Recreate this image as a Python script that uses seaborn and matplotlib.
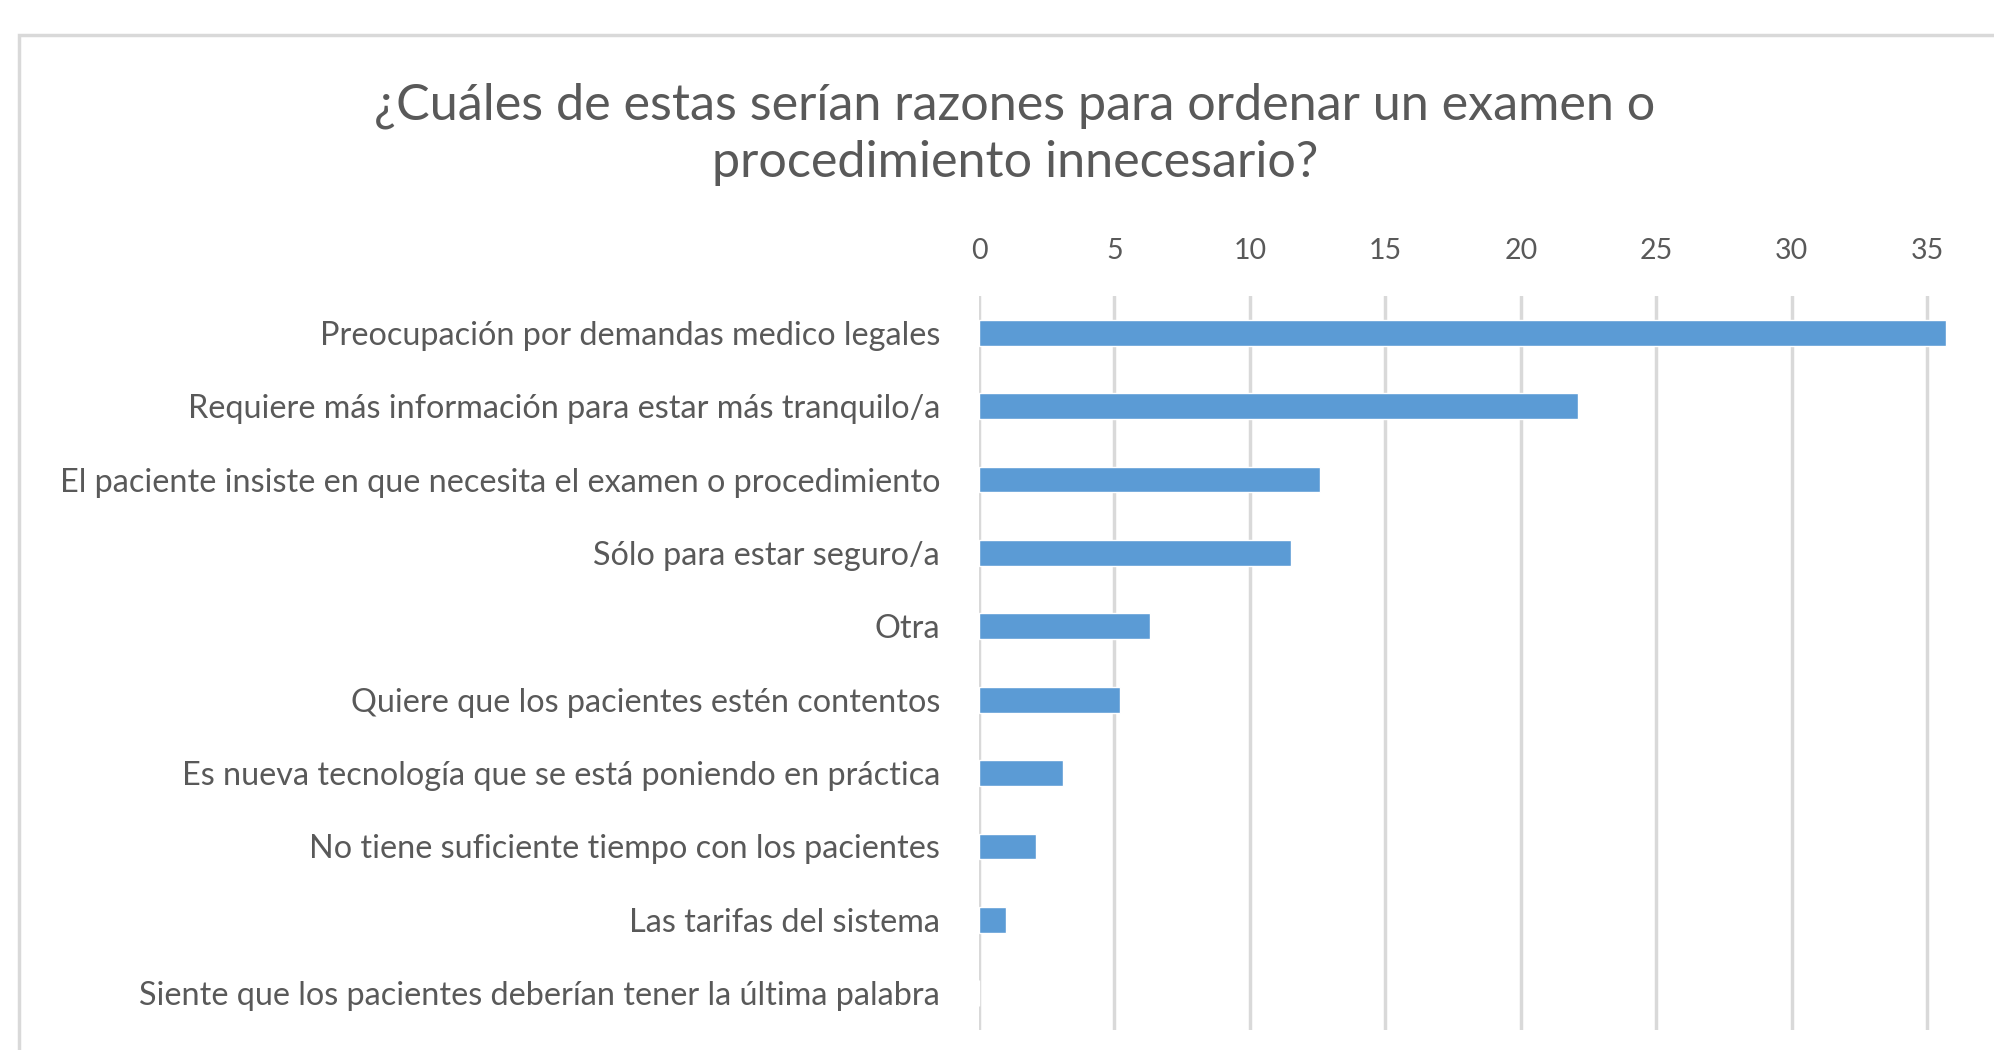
import pandas as pd
import matplotlib.pyplot as plt
import seaborn as sns
from matplotlib.patches import Rectangle

# Survey answers (percent of respondents)
razones = [
    'Preocupación por demandas medico legales',
    'Requiere más información para estar más tranquilo/a',
    'El paciente insiste en que necesita el examen o procedimiento',
    'Sólo para estar seguro/a',
    'Otra',
    'Quiere que los pacientes estén contentos',
    'Es nueva tecnología que se está poniendo en práctica',
    'No tiene suficiente tiempo con los pacientes',
    'Las tarifas del sistema',
    'Siente que los pacientes deberían tener la última palabra',
]
porcentaje = [35.7, 22.1, 12.6, 11.5, 6.3, 5.2, 3.1, 2.1, 1.0, 0.0]
x_ticks = [0, 5, 10, 15, 20, 25, 30, 35]

df = pd.DataFrame({'Razon': razones, 'Porcentaje': porcentaje})

sns.set_theme(style='white')
plt.rcParams['font.family'] = ['Lato', 'DejaVu Sans']

gris = '#595959'
azul = '#5B9BD5'

fig = plt.figure(figsize=(19.94, 10.5), dpi=100)

# chart frame (cut off on the right and bottom like the original)
fig.patches.append(Rectangle((19 / 1994, -0.2), 1.2, 1.2 - 35 / 1050,
                             transform=fig.transFigure, fill=False,
                             edgecolor='#D9D9D9', linewidth=2.5, zorder=0))

# axis runs to 40, the right end falls outside the picture
ax = fig.add_axes([979 / 1994, 20 / 1050, 1083.6 / 1994, 734 / 1050])
sns.barplot(data=df, y='Razon', x='Porcentaje', color=azul, width=0.35,
            saturation=1, ax=ax, zorder=3)

ax.set_xlim(0, 40)
ax.set_ylim(9.5, -0.5)
ax.set_xticks(x_ticks)
ax.xaxis.tick_top()
ax.tick_params(axis='x', length=0, pad=23, labelsize=20.5, labelcolor=gris)
ax.tick_params(axis='y', length=0, pad=28, labelsize=23.3, labelcolor=gris)
ax.grid(axis='x', color='#D9D9D9', linewidth=2.5, zorder=0)
ax.set_axisbelow(True)
for s in ax.spines.values():
    s.set_visible(False)
ax.set_xlabel('')
ax.set_ylabel('')

fig.text(1015 / 1994, 1 - 134 / 1050,
         '¿Cuáles de estas serían razones para ordenar un examen o\nprocedimiento innecesario?',
         ha='center', va='center', fontsize=36.2, color=gris, linespacing=1.3)

fig.savefig('out.png', dpi=100)
